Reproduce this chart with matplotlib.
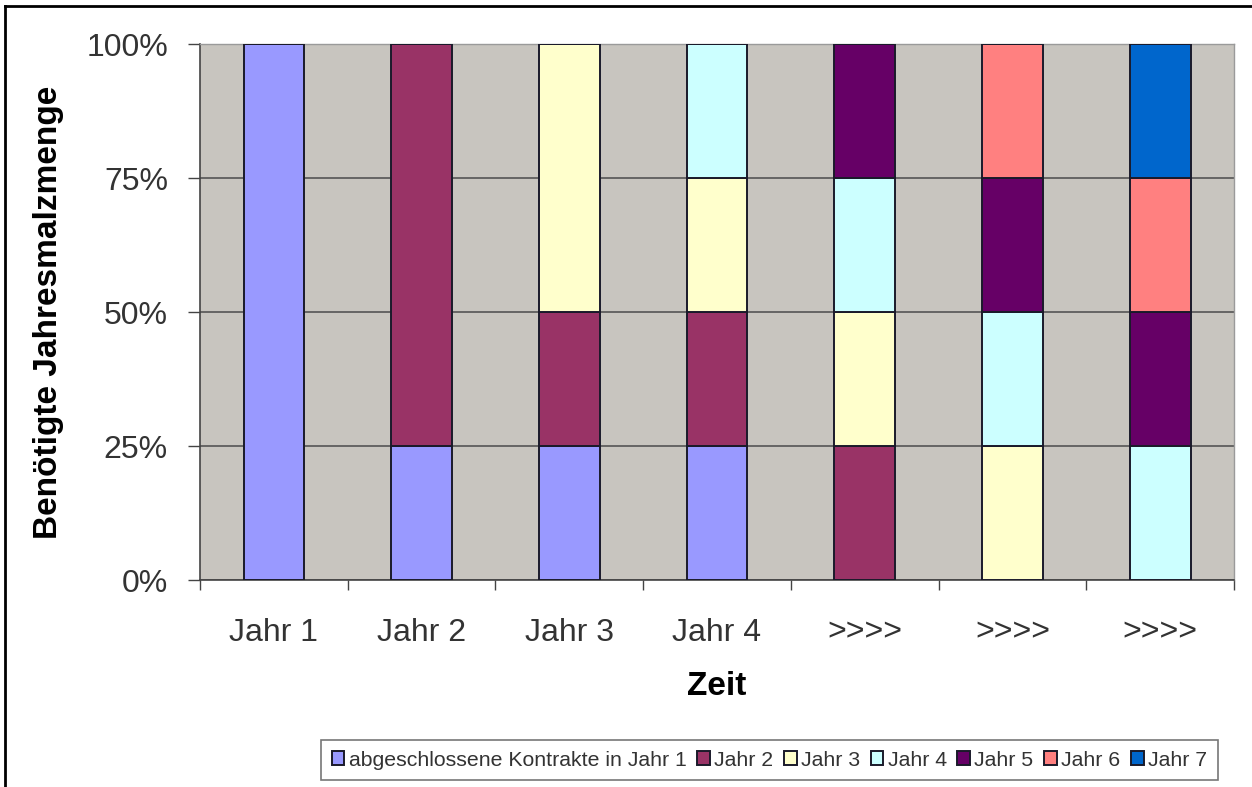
import matplotlib.pyplot as plt
from matplotlib.lines import Line2D
import numpy as np

plt.rcParams['font.family'] = ['Liberation Sans', 'DejaVu Sans']

# categories on the x axis
categories = ['Jahr 1', 'Jahr 2', 'Jahr 3', 'Jahr 4', '>>>>', '>>>>', '>>>>']

# share of the yearly malt quantity (%) by contract year
series_names = ['abgeschlossene Kontrakte in Jahr 1', 'Jahr 2', 'Jahr 3',
                'Jahr 4', 'Jahr 5', 'Jahr 6', 'Jahr 7']
jahr1 = [100, 25, 25, 25, 0, 0, 0]
jahr2 = [0, 75, 25, 25, 25, 0, 0]
jahr3 = [0, 0, 50, 25, 25, 25, 0]
jahr4 = [0, 0, 0, 25, 25, 25, 25]
jahr5 = [0, 0, 0, 0, 25, 25, 25]
jahr6 = [0, 0, 0, 0, 0, 25, 25]
jahr7 = [0, 0, 0, 0, 0, 0, 25]
colors = ['#9999FF', '#993366', '#FFFFCC', '#CCFFFF', '#660066', '#FF8080', '#0066CC']

data = [jahr1, jahr2, jahr3, jahr4, jahr5, jahr6, jahr7]

fig = plt.figure(figsize=(12.52, 7.87), dpi=100)
ax = fig.add_axes([0.1597, 0.263, 0.826, 0.681])
ax.set_facecolor('#C8C5BF')

x = np.arange(len(categories))
bottom = np.zeros(len(categories))
handles = []
for vals, name, c in zip(data, series_names, colors):
    vals = np.array(vals, dtype=float)
    b = ax.bar(x, vals, bottom=bottom, width=0.41, color=c,
               edgecolor='#1a1a2a', linewidth=1.4, label=name, zorder=3)
    bottom += vals
    handles.append(b)

ax.set_xlim(-0.5, len(categories) - 0.5)
ax.set_ylim(0, 100)
ax.set_yticks([0, 25, 50, 75, 100])
ax.set_yticklabels(['0%', '25%', '50%', '75%', '100%'], fontsize=23, color='#333333')
ax.yaxis.grid(True, color='#555555', linewidth=1.2, zorder=1)

ax.set_xticks(x)
ax.set_xticklabels(categories, fontsize=23, color='#333333')
ax.set_xticks(np.arange(-0.5, len(categories)), minor=True)
ax.tick_params(axis='x', which='major', length=0, pad=27)
ax.tick_params(axis='x', which='minor', length=7, width=1, color='#444444', direction='out')
ax.tick_params(axis='y', length=9, width=1, color='#444444', pad=14)

for side in ['top', 'right']:
    ax.spines[side].set_color('#9a9a9a')
    ax.spines[side].set_linewidth(1)
ax.spines['left'].set_color('#444444')
ax.spines['bottom'].set_color('#444444')
ax.spines['left'].set_linewidth(1.2)
ax.spines['bottom'].set_linewidth(1.2)

ax.set_xlabel('Zeit', fontsize=24, fontweight='bold', labelpad=17)
ax.set_ylabel('Benötigte Jahresmalzmenge', fontsize=24, fontweight='bold', labelpad=16)

leg = fig.legend(handles=handles, labels=series_names, loc='center',
                 bbox_to_anchor=(0.6145, 0.0343), ncol=7, fontsize=15.3,
                 frameon=True, fancybox=False, edgecolor='#555555',
                 handlelength=0.6, handleheight=0.6, handletextpad=0.2,
                 columnspacing=0.5, borderpad=0.5, borderaxespad=0)
leg.get_frame().set_linewidth(1.2)
for t in leg.get_texts():
    t.set_color('#333333')

# outer chart border (only top and left are inside the picture)
fig.add_artist(Line2D([0.004, 1.0], [0.992, 0.992], transform=fig.transFigure,
                      color='black', linewidth=2))
fig.add_artist(Line2D([0.004, 0.004], [0.0, 0.992], transform=fig.transFigure,
                      color='black', linewidth=2))

fig.savefig('out.png', dpi=100)
